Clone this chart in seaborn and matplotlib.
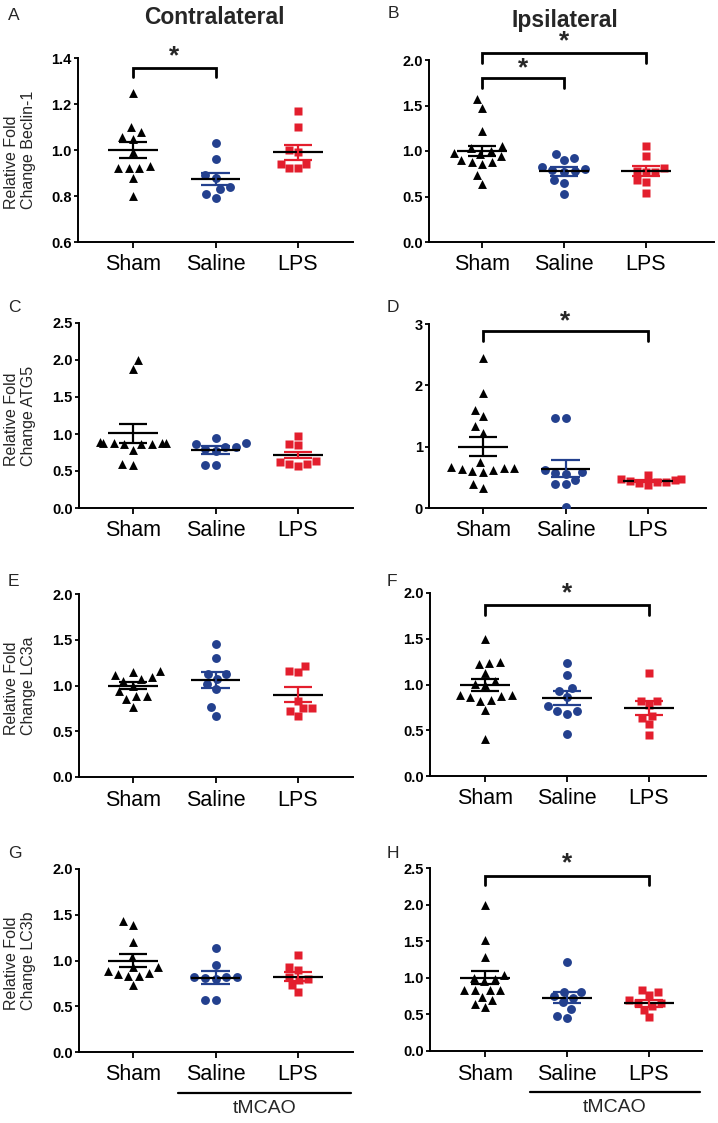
import numpy as np
import pandas as pd
import matplotlib
matplotlib.use("Agg")
import matplotlib.pyplot as plt
import seaborn as sns
import warnings
warnings.filterwarnings("ignore")

sns.set_theme(style="ticks")
plt.rcParams["font.family"] = ["Liberation Sans", "DejaVu Sans"]

groups = ["Sham", "Saline", "LPS"]
colors = ["#000000", "#23408e", "#e31e2d"]
markers = ["^", "o", "s"]
marker_sizes = [6.4, 6.4, 5.4]

# ---------------- data ----------------
A_sham = [1.25, 1.10, 1.08, 1.055, 1.05, 0.99, 0.93, 0.92, 0.92, 0.92, 0.88, 0.80]
A_saline = [1.03, 0.96, 0.89, 0.88, 0.84, 0.83, 0.81, 0.79]
A_lps = [1.17, 1.10, 1.00, 0.99, 0.94, 0.94, 0.92, 0.92]
A_mean = [1.00, 0.873, 0.990]
A_sem = [0.034, 0.025, 0.033]

B_sham = [1.57, 1.47, 1.22, 1.06, 1.03, 1.00, 0.98, 0.97, 0.95, 0.90, 0.88, 0.88, 0.86, 0.74, 0.64]
B_saline = [0.97, 0.92, 0.90, 0.82, 0.80, 0.79, 0.78, 0.77, 0.68, 0.65, 0.53]
B_lps = [1.06, 0.94, 0.81, 0.78, 0.77, 0.77, 0.68, 0.66, 0.54]
B_mean = [1.00, 0.778, 0.778]
B_sem = [0.055, 0.050, 0.055]

C_sham = [2.00, 1.88, 0.89, 0.88, 0.88, 0.88, 0.88, 0.87, 0.87, 0.86, 0.78, 0.59, 0.58]
C_saline = [0.95, 0.88, 0.87, 0.83, 0.83, 0.80, 0.77, 0.58, 0.58]
C_lps = [0.97, 0.86, 0.85, 0.64, 0.62, 0.60, 0.59, 0.57]
C_mean = [1.008, 0.78, 0.714]
C_sem = [0.127, 0.055, 0.045]

D_sham = [2.44, 1.87, 1.60, 1.50, 1.33, 1.23, 0.75, 0.67, 0.66, 0.66, 0.64, 0.62, 0.61, 0.59, 0.39, 0.33]
D_saline = [1.46, 1.46, 0.62, 0.59, 0.57, 0.56, 0.46, 0.39, 0.39, 0.01]
D_lps = [0.53, 0.48, 0.47, 0.46, 0.44, 0.43, 0.42, 0.40, 0.37]
D_mean = [1.00, 0.644, 0.436]
D_sem = [0.155, 0.145, 0.02]

E_sham = [1.16, 1.15, 1.11, 1.09, 1.07, 1.05, 1.00, 0.94, 0.88, 0.88, 0.85, 0.77]
E_saline = [1.45, 1.30, 1.13, 1.13, 1.07, 1.02, 0.96, 0.77, 0.67]
E_lps = [1.21, 1.16, 1.15, 0.83, 0.75, 0.75, 0.72, 0.67]
E_mean = [1.00, 1.06, 0.90]
E_sem = [0.04, 0.085, 0.08]

F_sham = [1.50, 1.25, 1.24, 1.22, 1.13, 1.04, 1.01, 0.99, 0.88, 0.88, 0.87, 0.86, 0.83, 0.82, 0.72, 0.40]
F_saline = [1.24, 1.10, 0.96, 0.93, 0.86, 0.77, 0.71, 0.71, 0.68, 0.46]
F_lps = [1.13, 0.82, 0.82, 0.78, 0.66, 0.63, 0.57, 0.45]
F_mean = [0.994, 0.85, 0.74]
F_sem = [0.07, 0.075, 0.075]

G_sham = [1.43, 1.39, 1.20, 1.04, 0.93, 0.93, 0.89, 0.86, 0.85, 0.83, 0.83, 0.73]
G_saline = [1.14, 0.95, 0.82, 0.82, 0.82, 0.81, 0.80, 0.57, 0.57]
G_lps = [1.06, 0.93, 0.90, 0.82, 0.80, 0.79, 0.73, 0.66]
G_mean = [1.00, 0.814, 0.825]
G_sem = [0.07, 0.068, 0.045]

H_sham = [2.00, 1.51, 1.28, 1.04, 1.00, 0.98, 0.96, 0.84, 0.84, 0.84, 0.84, 0.74, 0.70, 0.64, 0.60]
H_saline = [1.22, 0.81, 0.80, 0.75, 0.72, 0.67, 0.58, 0.48, 0.45]
H_lps = [0.83, 0.80, 0.76, 0.69, 0.66, 0.65, 0.62, 0.56, 0.46]
H_mean = [1.00, 0.727, 0.65]
H_sem = [0.09, 0.075, 0.05]

ylabels = {
    "A": "Relative Fold\nChange Beclin-1",
    "C": "Relative Fold\nChange ATG5",
    "E": "Relative Fold\nChange LC3a",
    "G": "Relative Fold\nChange LC3b",
}

# brackets: (group i, group j, top y, leg bottom y, star y)
brackets = {
    "A": [(0, 1, 1.356, 1.316, 1.407)],
    "B": [(0, 1, 1.798, 1.688, 1.908), (0, 2, 2.081, 1.971, 2.202)],
    "D": [(0, 2, 2.88, 2.717, 3.044)],
    "F": [(0, 2, 1.872, 1.762, 2.00)],
    "H": [(0, 2, 2.395, 2.27, 2.57)],
}

ylims = {"A": (0.6, 1.4), "B": (0, 2.0), "C": (0, 2.5), "D": (0, 3),
         "E": (0, 2.0), "F": (0, 2.0), "G": (0, 2.0), "H": (0, 2.5)}
yticks = {"A": [0.6, 0.8, 1.0, 1.2, 1.4], "B": [0, 0.5, 1.0, 1.5, 2.0],
          "C": [0, 0.5, 1.0, 1.5, 2.0, 2.5], "D": [0, 1, 2, 3],
          "E": [0, 0.5, 1.0, 1.5, 2.0], "F": [0, 0.5, 1.0, 1.5, 2.0],
          "G": [0, 0.5, 1.0, 1.5, 2.0], "H": [0, 0.5, 1.0, 1.5, 2.0, 2.5]}
yfmt = {"A": "{:.1f}", "B": "{:.1f}", "C": "{:.1f}", "D": "{:.0f}",
        "E": "{:.1f}", "F": "{:.1f}", "G": "{:.1f}", "H": "{:.1f}"}

panels = {
    "A": (A_sham, A_saline, A_lps, A_mean, A_sem),
    "B": (B_sham, B_saline, B_lps, B_mean, B_sem),
    "C": (C_sham, C_saline, C_lps, C_mean, C_sem),
    "D": (D_sham, D_saline, D_lps, D_mean, D_sem),
    "E": (E_sham, E_saline, E_lps, E_mean, E_sem),
    "F": (F_sham, F_saline, F_lps, F_mean, F_sem),
    "G": (G_sham, G_saline, G_lps, G_mean, G_sem),
    "H": (H_sham, H_saline, H_lps, H_mean, H_sem),
}

# ---------------- layout (pixels) ----------------
W, H = 718, 1123
# left, right, top, bottom, first-category x, category spacing
layout = {
    "A": (78, 353, 58, 242, 133, 82.5),
    "B": (429, 714, 60, 242, 482, 82),
    "C": (79, 353, 323, 508, 133, 82.5),
    "D": (429, 706, 324, 508, 483, 82.5),
    "E": (79, 353, 594, 777, 133, 82.5),
    "F": (430, 706, 593, 776, 485, 82),
    "G": (79, 353, 869, 1052, 133, 82.5),
    "H": (430, 702, 868, 1051, 485, 82),
}
letter_pos = {"A": (8, 15), "B": (388, 14), "C": (8, 307), "D": (387, 308),
              "E": (8, 581), "F": (387, 581), "G": (8, 854), "H": (387, 854)}

fig = plt.figure(figsize=(W / 100, H / 100), dpi=100)

for key, (sham, saline, lps, means, sems) in panels.items():
    l, r, t, b, c0, sp = layout[key]
    ax = fig.add_axes([l / W, 1 - b / H, (r - l) / W, (b - t) / H])
    df = pd.DataFrame({
        "group": ["Sham"] * len(sham) + ["Saline"] * len(saline) + ["LPS"] * len(lps),
        "value": list(sham) + list(saline) + list(lps),
    })
    for gi, g in enumerate(groups):
        sns.swarmplot(data=df[df["group"] == g], x="group", y="value", order=groups,
                      color=colors[gi], marker=markers[gi], size=marker_sizes[gi],
                      linewidth=0.9, edgecolor=(1, 1, 1, 0), ax=ax, zorder=3)
    for gi in range(3):
        m, s = means[gi], sems[gi]
        ax.hlines(m, gi - 0.3, gi + 0.3, color="black", lw=1.6, zorder=5)
        ax.vlines(gi, m - s, m + s, color=colors[gi], lw=1.6, zorder=5)
        ax.hlines([m - s, m + s], gi - 0.17, gi + 0.17, color=colors[gi], lw=1.6, zorder=5)

    ax.set_xlim((l - c0) / sp, (r - c0) / sp)
    ax.set_ylim(*ylims[key])
    ax.set_yticks(yticks[key])
    ax.set_yticklabels([yfmt[key].format(v) for v in yticks[key]],
                       fontweight="bold", fontsize=10.5)
    ax.set_xticks(range(3))
    ax.set_xticklabels(groups, fontsize=15.5)
    ax.set_xlabel("")
    ax.set_ylabel("")
    ax.tick_params(axis="y", length=3, width=1.3, pad=1.5, colors="black")
    ax.tick_params(axis="x", length=4, width=1.3, pad=5, colors="black")
    sns.despine(ax=ax)
    for sp_name in ["left", "bottom"]:
        ax.spines[sp_name].set_linewidth(1.4)
        ax.spines[sp_name].set_color("black")
    ax.set_facecolor("white")

    for (i, j, ytop, yleg, ystar) in brackets.get(key, []):
        ax.plot([i, i, j, j], [yleg, ytop, ytop, yleg], color="black", lw=2,
                clip_on=False, zorder=6, solid_joinstyle="miter")
        ax.text((i + j) / 2, ystar, "*", ha="center", va="center",
                fontsize=19, fontweight="bold", clip_on=False)

    if key in ylabels:
        fig.text(20 / W, 1 - ((t + b) / 2) / H, ylabels[key], rotation=90,
                 ha="center", va="center", multialignment="left", fontsize=11.5)

    if key in ("G", "H"):
        xa = 0.55
        xb = (r - 2 - c0) / sp
        ytr = ax.get_xaxis_transform()
        ax.plot([xa, xb], [-0.224, -0.224], color="black", lw=1.6,
                transform=ytr, clip_on=False)
        ax.text((xa + xb) / 2, -0.31, "tMCAO", transform=ytr, ha="center",
                va="center", fontsize=14)

    lx, ly = letter_pos[key]
    fig.text(lx / W, 1 - ly / H, key, ha="left", va="center", fontsize=12.5)

fig.text(214 / W, 1 - 18 / H, "Contralateral", ha="center", va="center",
         fontsize=16.5, fontweight="bold")
fig.text(565 / W, 1 - 20 / H, "Ipsilateral", ha="center", va="center",
         fontsize=16.5, fontweight="bold")

fig.savefig("out.png", dpi=100, facecolor="white")
